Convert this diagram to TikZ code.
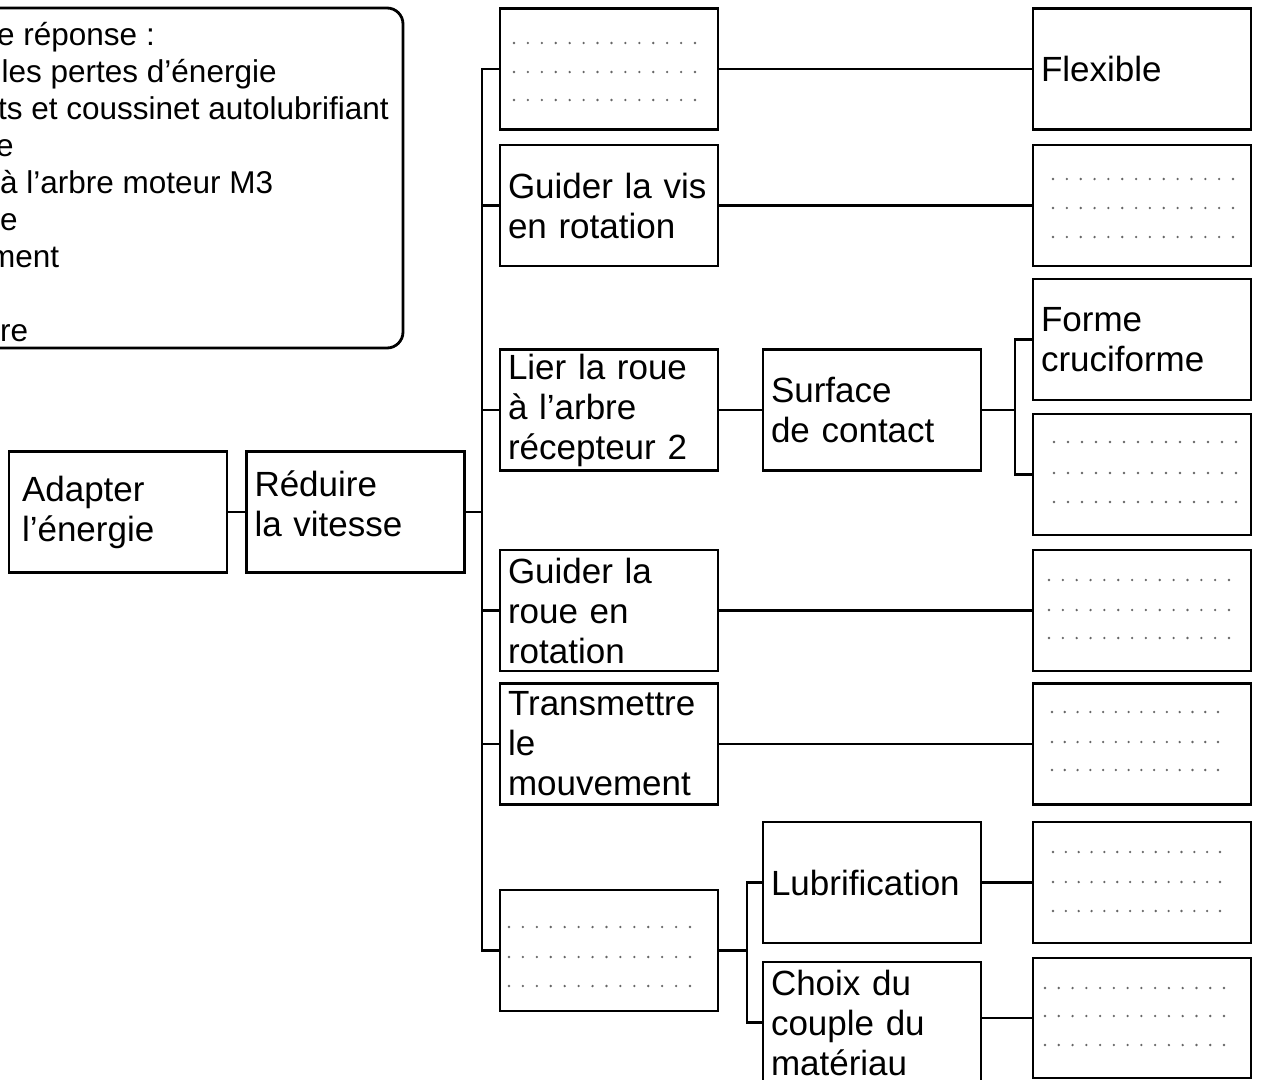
\documentclass[tikz,border=0pt]{standalone}
\usepackage{fontspec}
\setmainfont{Liberation Sans}
\newfontfamily\boxfont{Liberation Sans}
\newcommand\boxsetup{\boxfont\fontsize{35}{40}\selectfont\spaceskip=6pt plus 2pt minus 1pt\relax}
\newcommand\dotrow[3]{\foreach \i in {0,...,13}{\fill[dotc] ({#1+\i*(#2-#1)/13},#3) circle[radius=1.3pt];}}
\begin{document}
\begin{tikzpicture}[x=1pt,y=-1pt,
  box/.style={draw, line width=2.8pt, minimum width=218pt, minimum height=121pt,
    inner xsep=8pt, inner ysep=0pt, text width=202pt, align=left,
    font=\boxsetup, anchor=center},
  conn/.style={line width=2.6pt, line join=miter},
  dotc/.style={fill=black!60},
  leg/.style={anchor=base west, inner sep=0pt, font=\fontsize{31.5}{37}\selectfont}]
\useasboundingbox (0,0) rectangle (1261,1079);
\clip (0,0) rectangle (1261,1079);

% legend box (cut by the picture's left edge)
\node[draw, line width=2.8pt, rounded corners=16pt, minimum width=443pt, minimum height=340pt, inner sep=0pt] (legend) at (181.5,178) {};
\node[leg] (lg1) at (-3,45) {e réponse :};
\node[leg] (lg2) at (1.5,82) {les pertes d’énergie};
\node[leg] (lg3) at (-2,119) {ts et coussinet autolubrifiant};
\node[leg] (lg4) at (-4,156) {e};
\node[leg] (lg5) at (0,193) {à l’arbre moteur M3};
\node[leg] (lg6) at (0,230) {e};
\node[leg] (lg7) at (-11,267) {ment};
\node[leg] (lg9) at (0,341) {re};

% boxes
\node[box, inner xsep=13pt, text width=192pt] (adapt) at (118,512) {Adapter\\l’énergie};
\node[box, text depth=56pt] (reduire) at (355.5,512) {Réduire\\la vitesse};
\node[box] (b1) at (609,69) {};
\node[box] (b2) at (609,205.5) {Guider la vis\\en rotation};
\node[box] (b3) at (609,410) {Lier la roue\\à l’arbre\\récepteur 2};
\node[box] (b4) at (609,610.5) {Guider la\\roue en\\rotation};
\node[box] (b5) at (609,744) {Transmettre\\le\\mouvement};
\node[box] (b6) at (609,950.5) {};
\node[box] (surf) at (872,410) {Surface\\de contact};
\node[box] (lub) at (872,882.5) {Lubrification};
\node[box] (choix) at (872,1022.5) {Choix du\\couple du\\matériau};
\node[box] (flex) at (1142,69) {Flexible};
\node[box] (d2) at (1142,205.5) {};
\node[box] (forme) at (1142,339.5) {Forme\\cruciforme};
\node[box] (d3) at (1142,474.5) {};
\node[box] (d4) at (1142,610.5) {};
\node[box] (d5) at (1142,744) {};
\node[box] (d7) at (1142,882.5) {};
\node[box, minimum height=120pt] (d8) at (1142,1018) {};

% dotted answer lines
\dotrow{514}{695}{43}\dotrow{514}{695}{72}\dotrow{514}{695}{100}
\dotrow{509}{690}{927}\dotrow{509}{690}{957}\dotrow{509}{690}{986}
\dotrow{1053}{1233}{179}\dotrow{1053}{1233}{208}\dotrow{1053}{1233}{237}
\dotrow{1054}{1236}{442}\dotrow{1054}{1236}{473}\dotrow{1054}{1236}{502}
\dotrow{1049}{1229}{580}\dotrow{1049}{1229}{610}\dotrow{1049}{1229}{638}
\dotrow{1052}{1218}{712}\dotrow{1052}{1218}{742}\dotrow{1052}{1218}{770}
\dotrow{1053}{1220}{852}\dotrow{1053}{1220}{882}\dotrow{1053}{1220}{911}
\dotrow{1045}{1224}{988}\dotrow{1045}{1224}{1016}\dotrow{1045}{1224}{1045}

% connectors
\draw[conn] (adapt.east) -- (reduire.west);
\coordinate (bus) at (482,512);
\draw[conn] (reduire.east) -- (bus);
\draw[conn] (b1.west) -- (b1.west -| bus) -- (b6.west -| bus) -- (b6.west);
\foreach \n in {b2,b3,b4,b5}{\draw[conn] (\n.west -| bus) -- (\n.west);}
\draw[conn] (b1.east) -- (flex.west);
\draw[conn] (b2.east) -- (d2.west);
\draw[conn] (b3.east) -- (surf.west);
\coordinate (bus2) at (1015,410);
\draw[conn] (surf.east) -- (bus2);
\draw[conn] (forme.west) -- (forme.west -| bus2) -- (d3.west -| bus2) -- (d3.west);
\draw[conn] (b4.east) -- (d4.west);
\draw[conn] (b5.east) -- (d5.west);
\coordinate (bus3) at (747,950.5);
\draw[conn] (b6.east) -- (bus3);
\draw[conn] (lub.west) -- (lub.west -| bus3) -- (choix.west -| bus3) -- (choix.west);
\draw[conn] (lub.east) -- (d7.west);
\draw[conn] (d8.west -| choix.east) -- (d8.west);
\end{tikzpicture}
\end{document}
